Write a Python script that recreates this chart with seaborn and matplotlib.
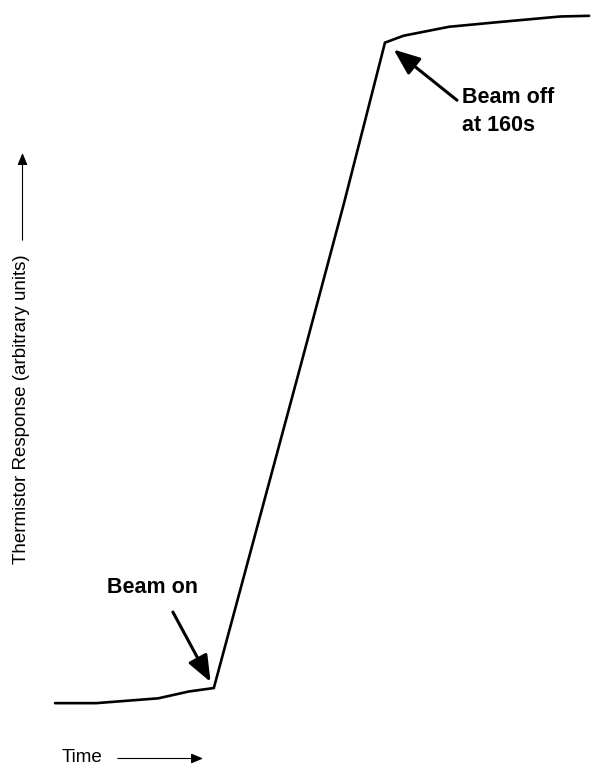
import matplotlib
matplotlib.use('Agg')
import matplotlib.pyplot as plt
import seaborn as sns
import pandas as pd

# Thermistor trace (time in s, response in arbitrary units)
time_s = [0, 20, 50, 65, 77, 98, 119, 140, 160, 169, 191, 212, 245, 259]
response = [0, 0, 0.7, 1.7, 2.2, 25.6, 49.0, 72.6, 96.1, 97.1, 98.4, 99.0, 99.9, 100]

beam_on_t, beam_on_r = 77, 2.2
beam_off_t, beam_off_r = 160, 96.1

df = pd.DataFrame({'time': time_s, 'response': response})

sns.set_style('white')
plt.rcParams['font.family'] = ['Liberation Sans', 'DejaVu Sans']
plt.rcParams['text.color'] = 'black'

fig = plt.figure(figsize=(5.92, 7.65), dpi=100)
ax = fig.add_axes([0, 0, 1, 1])
sns.lineplot(data=df, x='time', y='response', ax=ax, color='black', lw=1.9)
ax.set_xlim(-26.7, 260.4)
ax.set_ylim(-9.0, 102.3)
ax.set_axis_off()

big_arrow = dict(arrowstyle='-|>,head_length=0.8,head_width=0.32', mutation_scale=20,
                 color='black', lw=2.2, shrinkA=0)

# Beam on
ax.text(0.181, 0.232, 'Beam on', transform=ax.transAxes, fontsize=15.5,
        fontweight='bold', ha='left', va='center', color='black')
ax.annotate('', xy=(beam_on_t, beam_on_r), xycoords='data',
            xytext=(0.292, 0.200), textcoords='axes fraction',
            arrowprops=dict(big_arrow, shrinkB=5))

# Beam off
ax.text(0.781, 0.854, 'Beam off\nat 160s', transform=ax.transAxes, fontsize=15.5,
        fontweight='bold', ha='left', va='center', linespacing=1.4, color='black')
ax.annotate('', xy=(beam_off_t, beam_off_r), xycoords='data',
            xytext=(0.772, 0.869), textcoords='axes fraction',
            arrowprops=dict(big_arrow, shrinkB=8))

# Axis labels with thin arrows
small_arrow = dict(arrowstyle='-|>,head_length=0.6,head_width=0.25', mutation_scale=12,
                   color='black', lw=0.8, shrinkA=0, shrinkB=0)

ax.text(0.036, 0.465, 'Thermistor Response (arbitrary units)', transform=ax.transAxes,
        fontsize=13.5, rotation=90, ha='center', va='center', color='black')
ax.annotate('', xy=(0.038, 0.800), xycoords='axes fraction',
            xytext=(0.038, 0.686), arrowprops=small_arrow)

ax.text(0.104, 0.0095, 'Time', transform=ax.transAxes, fontsize=13.5,
        ha='left', va='center', color='black')
ax.annotate('', xy=(0.343, 0.0085), xycoords='axes fraction',
            xytext=(0.199, 0.0085), arrowprops=small_arrow)

fig.savefig('out.png', dpi=100)
